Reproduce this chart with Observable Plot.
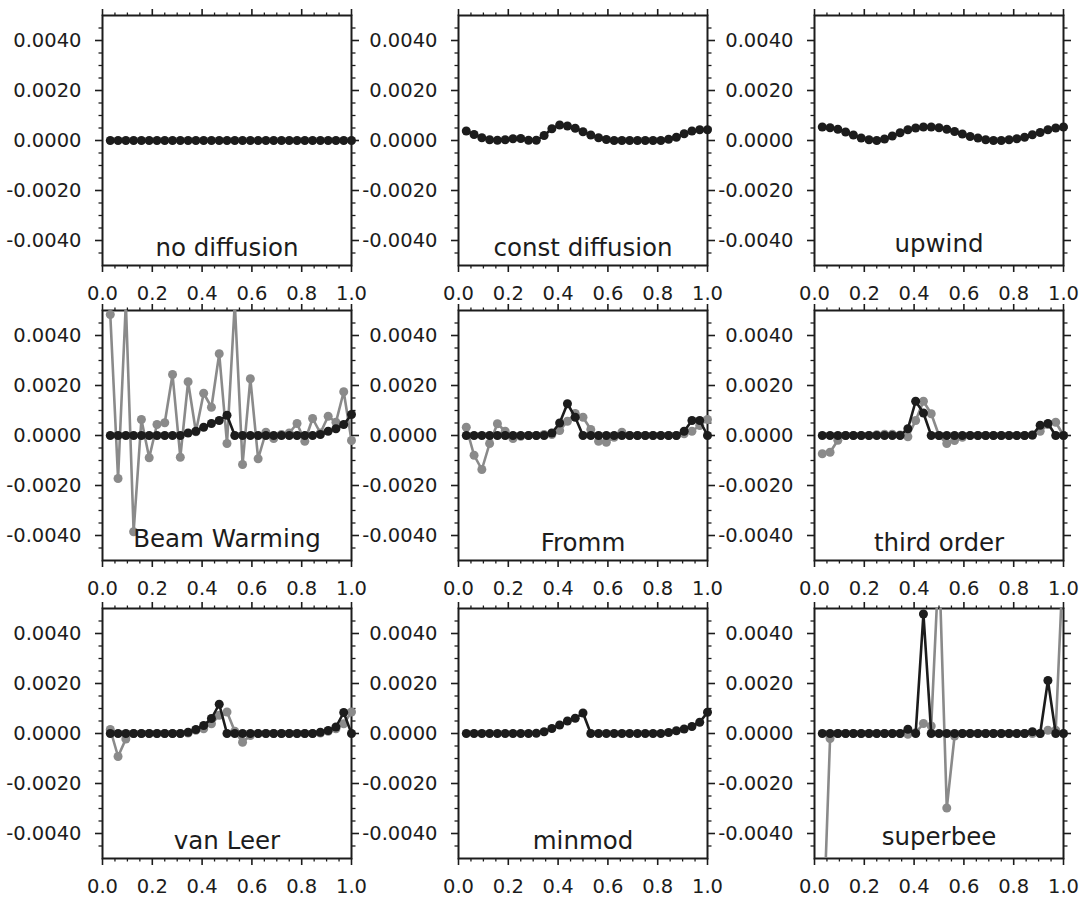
<!DOCTYPE html>
<html>
<head>
<meta charset="utf-8">
<script src="https://cdn.jsdelivr.net/npm/d3@7"></script>
<script src="https://cdn.jsdelivr.net/npm/@observablehq/plot@0.6"></script>
<style>
  body { margin: 0; background: #fff; }
  #wrap { position: relative; width: 1091px; height: 898px; overflow: hidden; background: #fff; }
  #wrap svg { position: absolute; }
</style>
</head>
<body>
<div id="wrap"></div>
<script>
// ---- data ----
const titles = ["no diffusion", "const diffusion", "upwind", "Beam Warming", "Fromm", "third order", "van Leer", "minmod", "superbee"];

const xGrid = [0.03125, 0.0625, 0.09375, 0.125, 0.15625, 0.1875, 0.21875, 0.25, 0.28125, 0.3125,
  0.34375, 0.375, 0.40625, 0.4375, 0.46875, 0.5, 0.53125, 0.5625, 0.59375, 0.625,
  0.65625, 0.6875, 0.71875, 0.75, 0.78125, 0.8125, 0.84375, 0.875, 0.90625, 0.9375,
  0.96875, 1.0];

const xMajorTicks = [0, 0.2, 0.4, 0.6, 0.8, 1.0];
const xMinorTicks = [0.05, 0.1, 0.15, 0.25, 0.3, 0.35, 0.45, 0.5, 0.55, 0.65, 0.7, 0.75, 0.85, 0.9, 0.95];
const yMajorTicks = [-0.004, -0.002, 0, 0.002, 0.004];
const yMinorTicks = [-0.0045, -0.0035, -0.003, -0.0025, -0.0015, -0.001, -0.0005, 0.0005, 0.001, 0.0015, 0.0025, 0.003, 0.0035, 0.0045];

const noDiffusionBlack = [0,0,0,0,0,0,0,0,0,0, 0,0,0,0,0,0,0,0,0,0, 0,0,0,0,0,0,0,0,0,0, 0,0];

const constDiffusionBlack = [0.00038,0.00024,0.00011,0.00003,0.00001,0.00003,0.00007,0.00008,0.00001,0.00001,
  0.00020,0.00047,0.00062,0.00058,0.00049,0.00035,0.00022,0.00011,0.00004,0.00000,
  0.00000,0.00000,0.00000,0.00000,0.00000,0.00000,0.00005,0.00013,0.00027,0.00038,
  0.00043,0.00043];

const upwindBlack = [0.00054,0.00051,0.00045,0.00034,0.00022,0.00010,0.00003,0.00000,0.00006,0.00018,
  0.00031,0.00043,0.00050,0.00054,0.00054,0.00051,0.00045,0.00036,0.00026,0.00016,
  0.00010,0.00003,0.00000,0.00000,0.00003,0.00007,0.00013,0.00023,0.00032,0.00043,
  0.00050,0.00054];

const beamWarmingBlack = [0,0,0,0,0,0,0,0,0,0,
  0.00010,0.00017,0.00033,0.00048,0.00060,0.00081,0,0,0,0,
  0,0,0,0,0,0,0,0.00004,0.00017,0.00027,
  0.00044,0.00084];
const beamWarmingGray = [0.00484,-0.00172,0.0053,-0.00385,0.00064,-0.00089,0.00044,0.00051,0.00244,-0.00087,
  0.00215,0.00015,0.00169,0.00113,0.00327,-0.00032,0.0053,-0.00116,0.00227,-0.00093,
  0.00013,-0.00012,0.00004,0.00010,0.00048,-0.00023,0.00068,0.00010,0.00077,0.00053,
  0.00175,-0.00020];

const frommBlack = [0,0,0,0,0,0,0,0,0,0,
  0,0.00010,0.00050,0.00127,0.00073,0,0,0,0,0,
  0,0,0,0,0,0,0,0,0.00017,0.00060,
  0.00060,0];
const frommGray = [0.00033,-0.00079,-0.00136,-0.00032,0.00047,0.00017,-0.00012,-0.00003,0,0,
  0.00004,0.00004,0.00020,0.00057,0.00088,0.00073,0.00024,-0.00023,-0.00027,-0.00007,
  0.00013,0,0,0,0,0,0,0,0.00007,0.00017,
  0.00040,0.00064];

const thirdOrderBlack = [0,0,0,0,0,0,0,0,0,0,
  0,0.00027,0.00137,0.00090,0,0,0,0,0,0,
  0,0,0,0,0,0,0,0.00002,0.00041,0.00048,
  0,0];
const thirdOrderGray = [-0.00073,-0.00067,-0.00019,0,0,0,0,0.00003,0.00005,0.00005,
  0.00002,-0.00005,0.00060,0.00137,0.00087,0,-0.00032,-0.00020,-0.00007,0,
  0,0,0,0,0,0,0,0.00001,0.00017,0.00044,
  0.00053,0];

const vanLeerBlack = [0,0,0,0,0,0,0,0,0,0,
  0.00005,0.00016,0.00032,0.00060,0.00117,0,0,0,0,0,
  0,0,0,0,0,0,0,0.00005,0.00012,0.00026,
  0.00084,0];
const vanLeerGray = [0.00016,-0.00092,-0.00022,0,0,0,0,0,0,0,
  0.00002,0.00013,0.00019,0.00039,0.00073,0.00086,0.00009,-0.00035,-0.00008,0,
  0,0,0,0,0,0,0,0.00002,0.00009,0.00019,
  0.00039,0.00086];

const minmodBlack = [0,0,0,0,0,0,0,0,0,0.00001,
  0.00007,0.00020,0.00034,0.00050,0.00061,0.00082,0,0,0,0,
  0,0,0,0,0,0,0.00004,0.00011,0.00018,0.00028,
  0.00045,0.00085];

const superbeeBlack = [0,0,0,0,0,0,0,0,0,0,
  0,0.00017,0,0.00478,0,0,0,0,0,0,
  0,0,0,0,0,0,0,0.00007,0,0.00212,
  0,0];
const superbeeGray = [-0.0090,-0.00020,0,0,0,0,0,0,0,0,
  0,-0.00003,0.00003,0.00040,0.00030,0.0070,-0.00298,-0.00010,0,0,
  0,0,0,0,0,0,0,0,0,0.00013,
  0.00013,0.0072];

const blackSeries = [noDiffusionBlack, constDiffusionBlack, upwindBlack, beamWarmingBlack, frommBlack, thirdOrderBlack, vanLeerBlack, minmodBlack, superbeeBlack];
const graySeries = [null, null, null, beamWarmingGray, frommGray, thirdOrderGray, vanLeerGray, null, superbeeGray];

// ---- drawing ----
const BLACK = "#1c1c1c";
const GRAY = "#8a8a8a";
const FONT = "DejaVu Sans";
const TICK_FONT = 19.5;
const yLo = -0.005, yHi = 0.005;
const fmtY = d => d.toFixed(4);
const fmtX = d => d.toFixed(1);
const toRows = vals => vals.map((v, i) => ({x: xGrid[i], y: v}));
const inRange = d => d.y >= yLo && d.y <= yHi;

const wrap = document.getElementById("wrap");
const colLeft = [0, 356, 712];
const rowTop = [0, 295, 593];

titles.forEach((title, k) => {
  const col = k % 3, row = Math.floor(k / 3);
  const marks = [
    Plot.frame({stroke: BLACK, strokeWidth: 2}),
    // tick marks (outward on all four sides)
    Plot.axisX(xMajorTicks, {anchor: "bottom", tickSize: 7, fill: null, label: null, strokeWidth: 1.6, stroke: BLACK}),
    Plot.axisX(xMinorTicks, {anchor: "bottom", tickSize: 3.5, fill: null, label: null, strokeWidth: 1.3, stroke: BLACK}),
    Plot.axisX(xMajorTicks, {anchor: "top", tickSize: 7, fill: null, label: null, strokeWidth: 1.6, stroke: BLACK}),
    Plot.axisX(xMinorTicks, {anchor: "top", tickSize: 3.5, fill: null, label: null, strokeWidth: 1.3, stroke: BLACK}),
    Plot.axisY(yMajorTicks, {anchor: "left", tickSize: 7, fill: null, label: null, strokeWidth: 1.6, stroke: BLACK}),
    Plot.axisY(yMinorTicks, {anchor: "left", tickSize: 3.5, fill: null, label: null, strokeWidth: 1.3, stroke: BLACK}),
    Plot.axisY(yMajorTicks, {anchor: "right", tickSize: 7, fill: null, label: null, strokeWidth: 1.6, stroke: BLACK}),
    Plot.axisY(yMinorTicks, {anchor: "right", tickSize: 3.5, fill: null, label: null, strokeWidth: 1.3, stroke: BLACK}),
    // tick labels
    Plot.text(xMajorTicks, {x: d => d, text: fmtX, frameAnchor: "bottom", lineAnchor: "top", dy: 21, fontSize: TICK_FONT, fill: BLACK}),
    Plot.text(yMajorTicks, {y: d => d, text: fmtY, frameAnchor: "left", textAnchor: "end", dx: -21, fontSize: TICK_FONT, fill: BLACK})
  ];
  const g = graySeries[k];
  if (g) {
    const rows = toRows(g);
    marks.push(
      Plot.line(rows, {x: "x", y: "y", stroke: GRAY, strokeWidth: 2.6, clip: true}),
      Plot.dot(rows, {x: "x", y: "y", r: 4.5, fill: GRAY, filter: inRange})
    );
  }
  const b = toRows(blackSeries[k]);
  marks.push(
    Plot.line(b, {x: "x", y: "y", stroke: BLACK, strokeWidth: 2.6, clip: true}),
    Plot.dot(b, {x: "x", y: "y", r: 4.5, fill: BLACK, filter: inRange})
  );
  const hasDescender = /[gjpqy]/.test(title);
  marks.push(Plot.text([title], {text: d => d, frameAnchor: "bottom", lineAnchor: "bottom", dy: hasDescender ? -14 : -10, fontSize: 24.5, fill: BLACK}));

  const svg = Plot.plot({
    width: 370, height: 305,
    marginLeft: 102, marginRight: 19, marginTop: 15, marginBottom: 40,
    x: {domain: [0, 1], label: null},
    y: {domain: [yLo, yHi], label: null},
    style: {fontFamily: FONT, background: "transparent", overflow: "visible", maxWidth: "none"},
    marks
  });
  svg.style.left = colLeft[col] + "px";
  svg.style.top = rowTop[row] + "px";
  wrap.appendChild(svg);
});
</script>
</body>
</html>
